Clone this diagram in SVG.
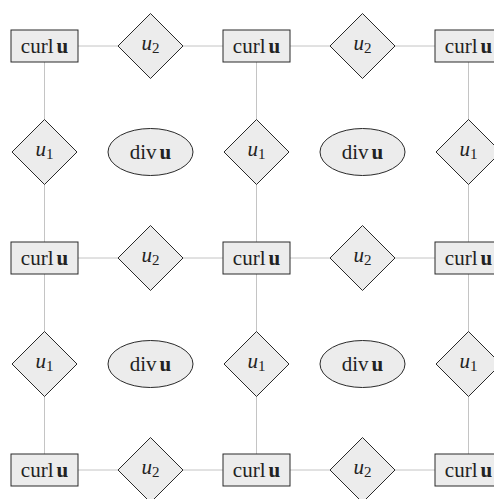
<svg xmlns="http://www.w3.org/2000/svg" width="494" height="499" viewBox="0 0 494 499">
<style>
.c{stroke:#c4c4c4;stroke-width:1;fill:none}
.n{fill:#ececec;stroke:#2a2a2a;stroke-width:1}
</style>
<rect width="494" height="499" fill="#fff"/>
<g id="connectors">
<line class="c" x1="44.5" y1="46" x2="468.5" y2="46"/>
<line class="c" x1="44.5" y1="258" x2="468.5" y2="258"/>
<line class="c" x1="44.5" y1="470" x2="468.5" y2="470"/>
<line class="c" x1="44.5" y1="46" x2="44.5" y2="470"/>
<line class="c" x1="256.5" y1="46" x2="256.5" y2="470"/>
<line class="c" x1="468.5" y1="46" x2="468.5" y2="470"/>
</g>
<g font-family="Liberation Serif, Times New Roman, serif" font-size="21" fill="#222" text-anchor="middle">
<g id="curl-1-1" transform="translate(44.5,46)"><rect class="n" x="-33.5" y="-16" width="67" height="32"/><text x="0" y="7" fill="#222">curl<tspan font-weight="bold" dx="3">u</tspan></text></g>
<g id="u2-1-1" transform="translate(150.5,46)"><polygon class="n" points="0,-32.5 32.5,0 0,32.5 -32.5,0"/><text x="0" y="4" fill="#222"><tspan font-style="italic">u</tspan><tspan font-size="15" dy="3">2</tspan></text></g>
<g id="curl-1-2" transform="translate(256.5,46)"><rect class="n" x="-33.5" y="-16" width="67" height="32"/><text x="0" y="7" fill="#222">curl<tspan font-weight="bold" dx="3">u</tspan></text></g>
<g id="u2-1-2" transform="translate(362.5,46)"><polygon class="n" points="0,-32.5 32.5,0 0,32.5 -32.5,0"/><text x="0" y="4" fill="#222"><tspan font-style="italic">u</tspan><tspan font-size="15" dy="3">2</tspan></text></g>
<g id="curl-1-3" transform="translate(468.5,46)"><rect class="n" x="-33.5" y="-16" width="67" height="32"/><text x="0" y="7" fill="#222">curl<tspan font-weight="bold" dx="3">u</tspan></text></g>
<g id="u1-1-1" transform="translate(44.5,152)"><polygon class="n" points="0,-32.5 32.5,0 0,32.5 -32.5,0"/><text x="0" y="4" fill="#222"><tspan font-style="italic">u</tspan><tspan font-size="15" dy="3">1</tspan></text></g>
<g id="div-1-1" transform="translate(150.5,152)"><ellipse class="n" cx="0" cy="0" rx="42.5" ry="23.5"/><text x="0" y="7" fill="#222">div<tspan font-weight="bold" dx="3">u</tspan></text></g>
<g id="u1-1-2" transform="translate(256.5,152)"><polygon class="n" points="0,-32.5 32.5,0 0,32.5 -32.5,0"/><text x="0" y="4" fill="#222"><tspan font-style="italic">u</tspan><tspan font-size="15" dy="3">1</tspan></text></g>
<g id="div-1-2" transform="translate(362.5,152)"><ellipse class="n" cx="0" cy="0" rx="42.5" ry="23.5"/><text x="0" y="7" fill="#222">div<tspan font-weight="bold" dx="3">u</tspan></text></g>
<g id="u1-1-3" transform="translate(468.5,152)"><polygon class="n" points="0,-32.5 32.5,0 0,32.5 -32.5,0"/><text x="0" y="4" fill="#222"><tspan font-style="italic">u</tspan><tspan font-size="15" dy="3">1</tspan></text></g>
<g id="curl-2-1" transform="translate(44.5,258)"><rect class="n" x="-33.5" y="-16" width="67" height="32"/><text x="0" y="7" fill="#222">curl<tspan font-weight="bold" dx="3">u</tspan></text></g>
<g id="u2-2-1" transform="translate(150.5,258)"><polygon class="n" points="0,-32.5 32.5,0 0,32.5 -32.5,0"/><text x="0" y="4" fill="#222"><tspan font-style="italic">u</tspan><tspan font-size="15" dy="3">2</tspan></text></g>
<g id="curl-2-2" transform="translate(256.5,258)"><rect class="n" x="-33.5" y="-16" width="67" height="32"/><text x="0" y="7" fill="#222">curl<tspan font-weight="bold" dx="3">u</tspan></text></g>
<g id="u2-2-2" transform="translate(362.5,258)"><polygon class="n" points="0,-32.5 32.5,0 0,32.5 -32.5,0"/><text x="0" y="4" fill="#222"><tspan font-style="italic">u</tspan><tspan font-size="15" dy="3">2</tspan></text></g>
<g id="curl-2-3" transform="translate(468.5,258)"><rect class="n" x="-33.5" y="-16" width="67" height="32"/><text x="0" y="7" fill="#222">curl<tspan font-weight="bold" dx="3">u</tspan></text></g>
<g id="u1-2-1" transform="translate(44.5,364)"><polygon class="n" points="0,-32.5 32.5,0 0,32.5 -32.5,0"/><text x="0" y="4" fill="#222"><tspan font-style="italic">u</tspan><tspan font-size="15" dy="3">1</tspan></text></g>
<g id="div-2-1" transform="translate(150.5,364)"><ellipse class="n" cx="0" cy="0" rx="42.5" ry="23.5"/><text x="0" y="7" fill="#222">div<tspan font-weight="bold" dx="3">u</tspan></text></g>
<g id="u1-2-2" transform="translate(256.5,364)"><polygon class="n" points="0,-32.5 32.5,0 0,32.5 -32.5,0"/><text x="0" y="4" fill="#222"><tspan font-style="italic">u</tspan><tspan font-size="15" dy="3">1</tspan></text></g>
<g id="div-2-2" transform="translate(362.5,364)"><ellipse class="n" cx="0" cy="0" rx="42.5" ry="23.5"/><text x="0" y="7" fill="#222">div<tspan font-weight="bold" dx="3">u</tspan></text></g>
<g id="u1-2-3" transform="translate(468.5,364)"><polygon class="n" points="0,-32.5 32.5,0 0,32.5 -32.5,0"/><text x="0" y="4" fill="#222"><tspan font-style="italic">u</tspan><tspan font-size="15" dy="3">1</tspan></text></g>
<g id="curl-3-1" transform="translate(44.5,470)"><rect class="n" x="-33.5" y="-16" width="67" height="32"/><text x="0" y="7" fill="#222">curl<tspan font-weight="bold" dx="3">u</tspan></text></g>
<g id="u2-3-1" transform="translate(150.5,470)"><polygon class="n" points="0,-32.5 32.5,0 0,32.5 -32.5,0"/><text x="0" y="4" fill="#222"><tspan font-style="italic">u</tspan><tspan font-size="15" dy="3">2</tspan></text></g>
<g id="curl-3-2" transform="translate(256.5,470)"><rect class="n" x="-33.5" y="-16" width="67" height="32"/><text x="0" y="7" fill="#222">curl<tspan font-weight="bold" dx="3">u</tspan></text></g>
<g id="u2-3-2" transform="translate(362.5,470)"><polygon class="n" points="0,-32.5 32.5,0 0,32.5 -32.5,0"/><text x="0" y="4" fill="#222"><tspan font-style="italic">u</tspan><tspan font-size="15" dy="3">2</tspan></text></g>
<g id="curl-3-3" transform="translate(468.5,470)"><rect class="n" x="-33.5" y="-16" width="67" height="32"/><text x="0" y="7" fill="#222">curl<tspan font-weight="bold" dx="3">u</tspan></text></g>
</g>
</svg>
